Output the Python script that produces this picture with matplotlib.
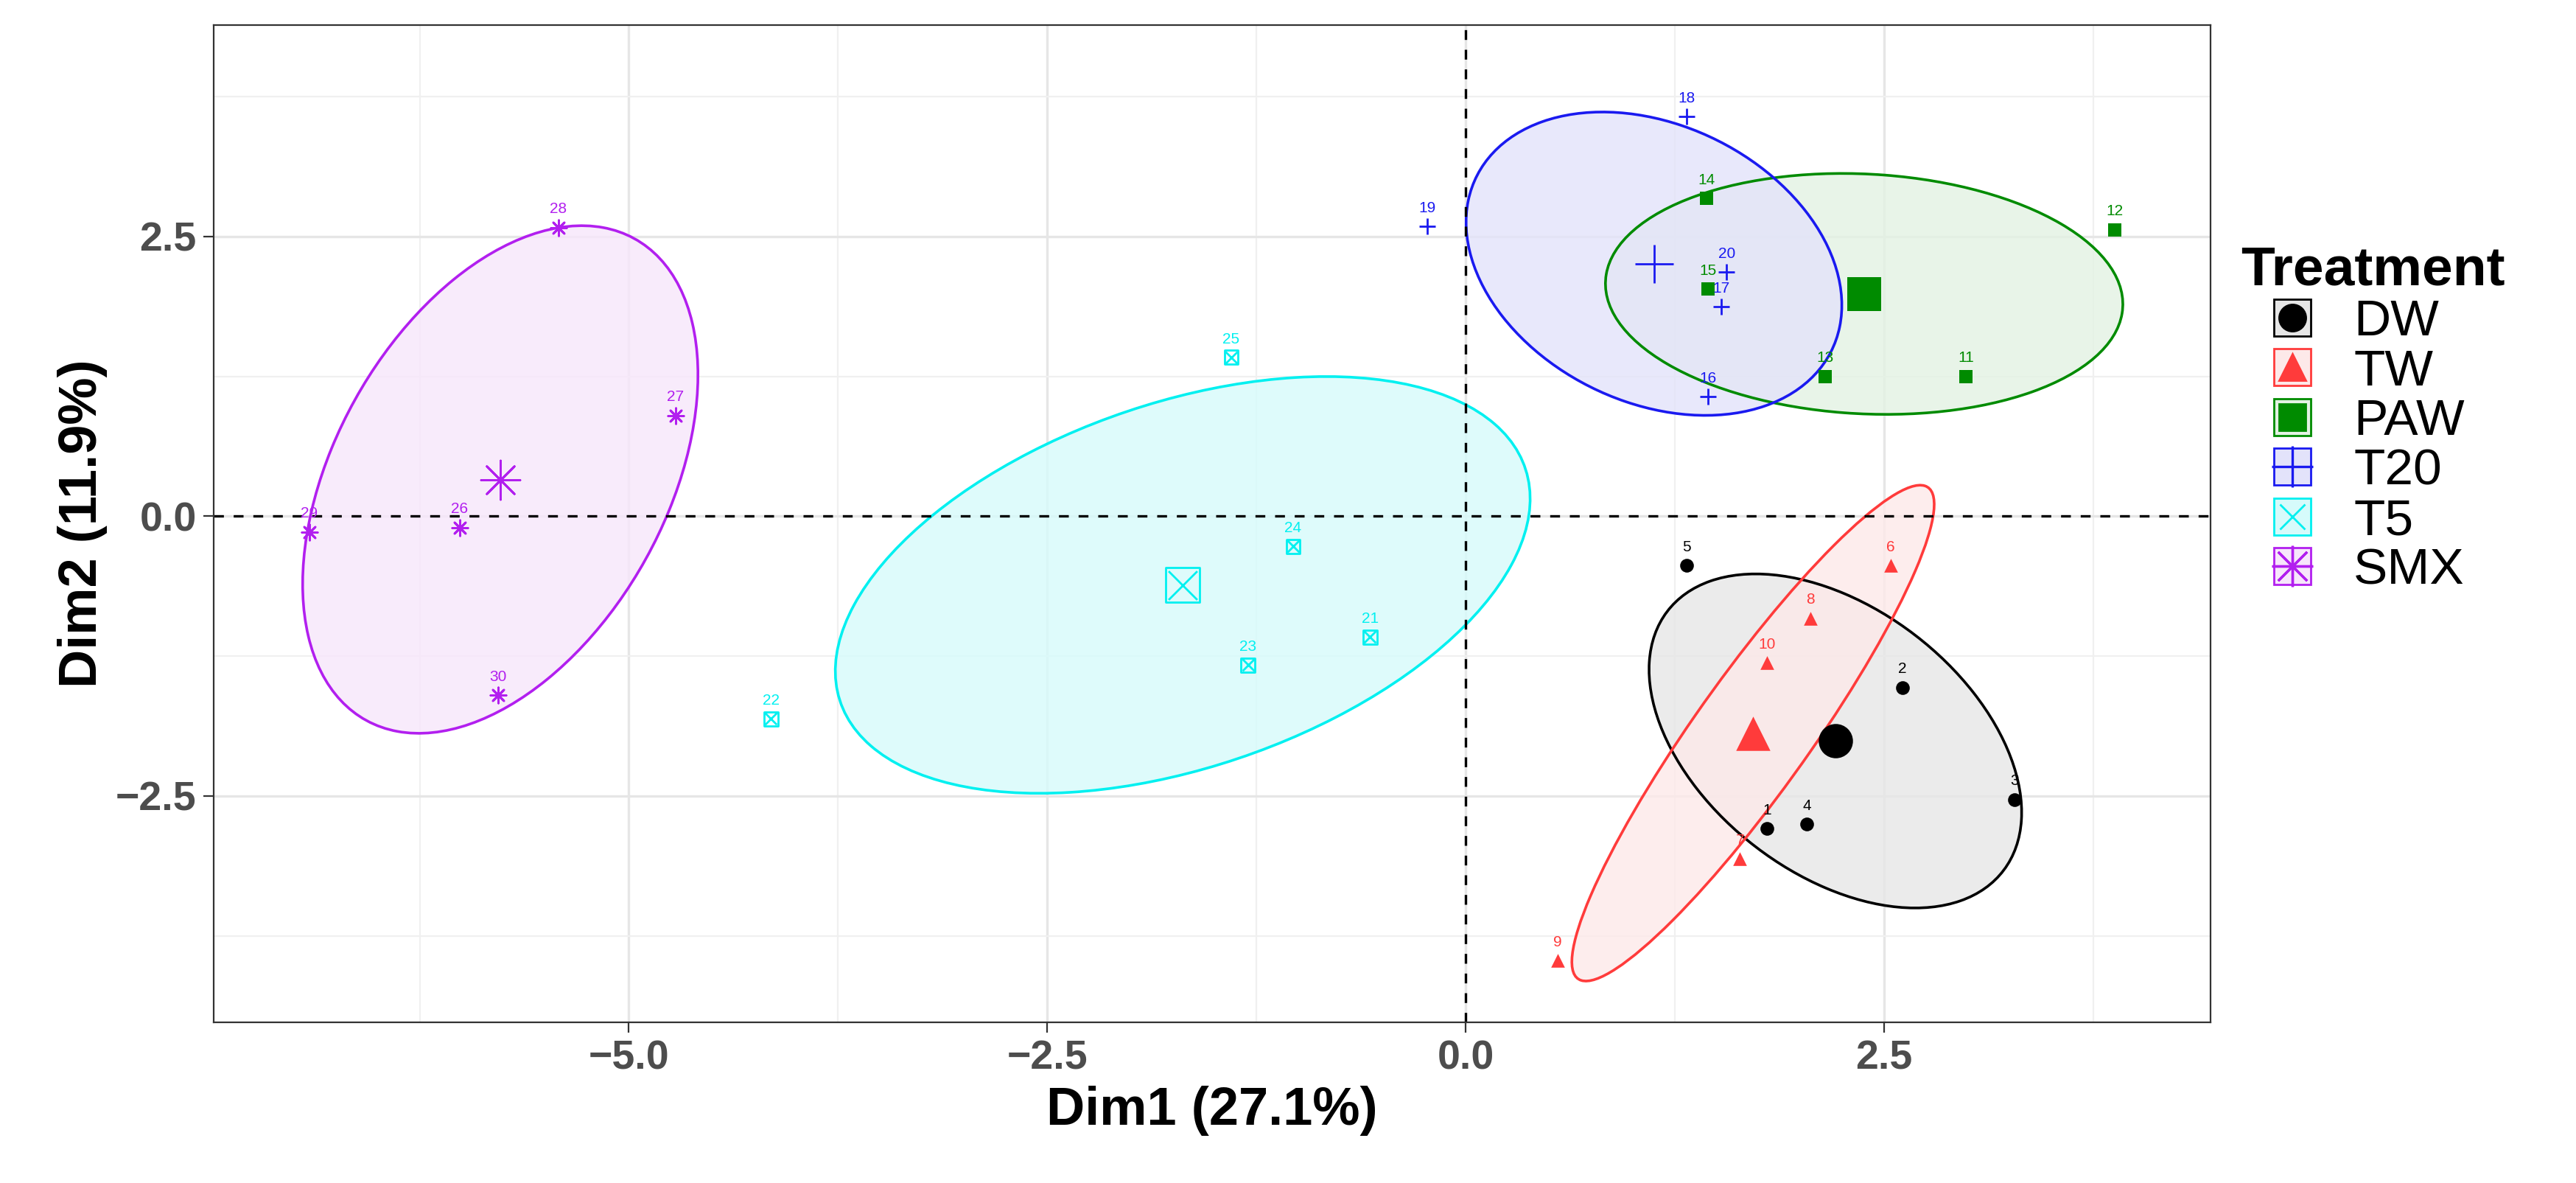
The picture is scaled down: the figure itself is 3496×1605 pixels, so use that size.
import numpy as np
import matplotlib
matplotlib.use("Agg")
import matplotlib.pyplot as plt
from matplotlib.patches import Ellipse
from matplotlib.lines import Line2D

plt.rcParams["font.family"] = ["Liberation Sans", "DejaVu Sans"]

# PCA individual coordinates (Dim1, Dim2)
groups = ["DW", "TW", "PAW", "T20", "T5", "SMX"]
ids = {
    "DW": [1, 2, 3, 4, 5],
    "TW": [6, 7, 8, 9, 10],
    "PAW": [11, 12, 13, 14, 15],
    "T20": [16, 17, 18, 19, 20],
    "T5": [21, 22, 23, 24, 25],
    "SMX": [26, 27, 28, 29, 30],
}
dim1 = {
    "DW": [1.80, 2.61, 3.28, 2.04, 1.32],
    "TW": [2.54, 1.64, 2.06, 0.55, 1.80],
    "PAW": [2.99, 3.88, 2.15, 1.44, 1.45],
    "T20": [1.45, 1.53, 1.32, -0.23, 1.56],
    "T5": [-0.57, -4.15, -1.30, -1.03, -1.40],
    "SMX": [-6.01, -4.72, -5.42, -6.91, -5.78],
}
dim2 = {
    "DW": [-2.79, -1.53, -2.53, -2.75, -0.44],
    "TW": [-0.44, -3.06, -0.91, -3.97, -1.31],
    "PAW": [1.25, 2.56, 1.25, 2.84, 2.03],
    "T20": [1.07, 1.87, 3.57, 2.59, 2.18],
    "T5": [-1.08, -1.81, -1.33, -0.27, 1.42],
    "SMX": [-0.10, 0.90, 2.58, -0.14, -1.60],
}

colors = {"DW": "#000000", "TW": "#FF3B3B", "PAW": "#008B00",
          "T20": "#1A1AF0", "T5": "#00F0F0", "SMX": "#B21FEF"}
fills = {"DW": "#E6E6E6", "TW": "#FDE9E9", "PAW": "#E3F2E3",
         "T20": "#E3E3FA", "T5": "#D6FBFB", "SMX": "#F7E6FB"}
markers = {"DW": "o", "TW": "^", "PAW": "s", "T20": "+", "T5": "s", "SMX": (8, 2, 0)}
ELLIPSE_K = 1.47

fig = plt.figure(figsize=(17.48, 8.025), dpi=200)
ax = fig.add_axes([0.083, 0.136, 0.775, 0.843])

for g in groups:
    x = np.array(dim1[g]); y = np.array(dim2[g])
    cov = np.cov(x, y)
    vals, vecs = np.linalg.eigh(cov)
    ang = np.degrees(np.arctan2(vecs[1, 1], vecs[0, 1]))
    w, h = 2 * ELLIPSE_K * np.sqrt(vals[1]), 2 * ELLIPSE_K * np.sqrt(vals[0])
    ax.add_patch(Ellipse((x.mean(), y.mean()), w, h, angle=ang,
                         facecolor=fills[g], edgecolor="none", alpha=0.8, zorder=1))
    ax.add_patch(Ellipse((x.mean(), y.mean()), w, h, angle=ang,
                         facecolor="none", edgecolor=colors[g], lw=1.3, zorder=2))

ax.axhline(0, color="black", ls=(0, (4, 4)), lw=1.2, zorder=2)
ax.axvline(0, color="black", ls=(0, (4, 4)), lw=1.2, zorder=2)

def draw_marker(g, x, y, size):
    c = colors[g]
    if g == "T5":
        ax.scatter(x, y, s=size, marker="s", facecolors="none", edgecolors=c, lw=1, zorder=4)
        ax.scatter(x, y, s=size * 0.7, marker="x", color=c, lw=1, zorder=4)
    elif g in ("T20", "SMX"):
        ax.scatter(x, y, s=size * 1.3, marker=markers[g], color=c, lw=1, zorder=4)
    else:
        ax.scatter(x, y, s=size, marker=markers[g], color=c, lw=0, zorder=4)

for g in groups:
    x = np.array(dim1[g]); y = np.array(dim2[g])
    draw_marker(g, x, y, 45)
    for i, xi, yi in zip(ids[g], x, y):
        ax.text(xi, yi + 0.1, str(i), color=colors[g], fontsize=7.5,
                ha="center", va="bottom", zorder=5)
    draw_marker(g, [x.mean()], [y.mean()], 280)

ax.set_xlim(-7.48, 4.45)
ax.set_ylim(-4.52, 4.39)
ax.set_xticks([-5, -2.5, 0, 2.5])
ax.set_xticks([-6.25, -3.75, -1.25, 1.25, 3.75], minor=True)
ax.set_yticks([-2.5, 0, 2.5])
ax.set_yticks([-3.75, -1.25, 1.25, 3.75], minor=True)
ax.set_xticklabels(["\u22125.0", "\u22122.5", "0.0", "2.5"])
ax.set_yticklabels(["\u22122.5", "0.0", "2.5"])
ax.grid(True, which="major", color="#E6E6E6", lw=1.2, zorder=0)
ax.grid(True, which="minor", color="#F0F0F0", lw=0.8, zorder=0)
ax.set_axisbelow(True)
ax.tick_params(which="minor", length=0)
ax.tick_params(which="major", labelsize=20, labelcolor="#4D4D4D", length=5, color="#333333")
for lab in ax.get_xticklabels() + ax.get_yticklabels():
    lab.set_fontweight("bold")
for s in ax.spines.values():
    s.set_color("#333333")
ax.set_xlabel("Dim1 (27.1%)", fontsize=26, fontweight="bold")
ax.set_ylabel("Dim2 (11.9%)", fontsize=26, fontweight="bold")

handles = []
for g in groups:
    c = colors[g]
    if g == "T5":
        h = (Line2D([], [], marker="s", mfc=fills[g], mec=c, ms=18, ls="none"),
             Line2D([], [], marker="x", color=c, ms=12, ls="none"))
    elif g in ("T20", "SMX"):
        h = (Line2D([], [], marker="s", mfc=fills[g], mec=c, ms=18, ls="none"),
             Line2D([], [], marker=markers[g], color=c, ms=20, ls="none", mew=1.2))
    else:
        h = (Line2D([], [], marker="s", mfc=fills[g], mec=c, ms=18, ls="none"),
             Line2D([], [], marker=markers[g], color=c, ms=13, ls="none"))
    handles.append(h)
leg = fig.legend(handles, groups, loc="upper left", bbox_to_anchor=(0.862, 0.81),
                 frameon=False, fontsize=25, title="Treatment", handletextpad=0.2,
                 labelspacing=0.05, borderaxespad=0)
leg.get_title().set_fontsize(27)
leg.get_title().set_fontweight("bold")
leg._legend_box.align = "left"

fig.savefig("out.png", dpi=200)
